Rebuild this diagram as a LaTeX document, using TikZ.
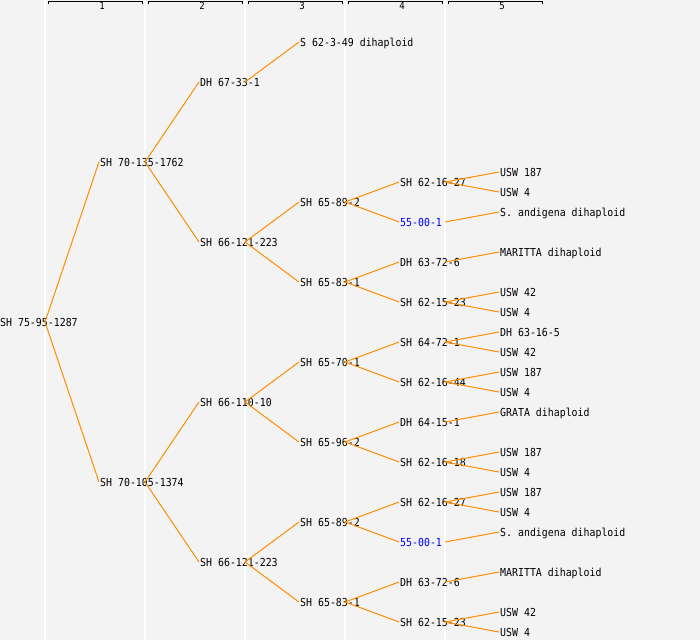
\documentclass[tikz,border=0pt]{standalone}
\usepackage{fontspec}
\newfontfamily\pedfont{DejaVu Sans Mono}[FakeStretch=0.9]
\definecolor{pedbg}{HTML}{F3F3F3}
\definecolor{pedline}{HTML}{FF8C00}
\tikzset{
  person/.style={anchor=west, inner sep=1pt, text height=8pt, text depth=0pt,
    font=\pedfont\fontsize{11}{11}\selectfont},
  marked/.style={person, text=blue},
  link/.style={draw=pedline, line width=1pt},
  gridline/.style={draw=white, line width=1.2pt},
  genbracket/.style={draw=black, line width=1pt},
  genlabel/.style={inner sep=0pt, font=\pedfont\fontsize{10}{10}\selectfont}
}
\newcommand{\parentof}[2]{\draw[link] ([xshift=46pt]#1.west) -- (#2.west);}

\begin{document}
\begin{tikzpicture}[x=1pt,y=-1pt]
  \fill[pedbg] (0,0) rectangle (700,640);
  \useasboundingbox (0,0) rectangle (700,640);

  \draw[gridline] (45,0) -- (45,640);
  \draw[gridline] (145,0) -- (145,640);
  \draw[gridline] (245,0) -- (245,640);
  \draw[gridline] (345,0) -- (345,640);
  \draw[gridline] (445,0) -- (445,640);

  \draw[genbracket] (48,4) -- (48,1) -- (142.5,1) -- (142.5,4);
  \draw[genbracket] (148,4) -- (148,1) -- (242.5,1) -- (242.5,4);
  \draw[genbracket] (248,4) -- (248,1) -- (342.5,1) -- (342.5,4);
  \draw[genbracket] (348,4) -- (348,1) -- (442.5,1) -- (442.5,4);
  \draw[genbracket] (448,4) -- (448,1) -- (542.5,1) -- (542.5,4);
  \node[genlabel] (gen1) at (102,6) {1};
  \node[genlabel] (gen2) at (202,6) {2};
  \node[genlabel] (gen3) at (302,6) {3};
  \node[genlabel] (gen4) at (402,6) {4};
  \node[genlabel] (gen5) at (502,6) {5};

  \node[person] (r) at (-1,322) {SH 75-95-1287};

  \node[person] (r1) at (99,162) {SH 70-135-1762};
  \node[person] (r2) at (99,482) {SH 70-105-1374};

  \node[person] (r11) at (199,82) {DH 67-33-1};
  \node[person] (r12) at (199,242) {SH 66-121-223};
  \node[person] (r21) at (199,402) {SH 66-110-10};
  \node[person] (r22) at (199,562) {SH 66-121-223};

  \node[person] (r111) at (299,42) {S 62-3-49 dihaploid};
  \node[person] (r121) at (299,202) {SH 65-89-2};
  \node[person] (r122) at (299,282) {SH 65-83-1};
  \node[person] (r211) at (299,362) {SH 65-70-1};
  \node[person] (r212) at (299,442) {SH 65-96-2};
  \node[person] (r221) at (299,522) {SH 65-89-2};
  \node[person] (r222) at (299,602) {SH 65-83-1};

  \node[person] (r1211) at (399,182) {SH 62-16-27};
  \node[marked] (r1212) at (399,222) {55-00-1};
  \node[person] (r1221) at (399,262) {DH 63-72-6};
  \node[person] (r1222) at (399,302) {SH 62-15-23};
  \node[person] (r2111) at (399,342) {SH 64-72-1};
  \node[person] (r2112) at (399,382) {SH 62-16-44};
  \node[person] (r2121) at (399,422) {DH 64-15-1};
  \node[person] (r2122) at (399,462) {SH 62-16-18};
  \node[person] (r2211) at (399,502) {SH 62-16-27};
  \node[marked] (r2212) at (399,542) {55-00-1};
  \node[person] (r2221) at (399,582) {DH 63-72-6};
  \node[person] (r2222) at (399,622) {SH 62-15-23};

  \node[person] (r12111) at (499,172) {USW 187};
  \node[person] (r12112) at (499,192) {USW 4};
  \node[person] (r12121) at (499,212) {S. andigena dihaploid};
  \node[person] (r12211) at (499,252) {MARITTA dihaploid};
  \node[person] (r12221) at (499,292) {USW 42};
  \node[person] (r12222) at (499,312) {USW 4};
  \node[person] (r21111) at (499,332) {DH 63-16-5};
  \node[person] (r21112) at (499,352) {USW 42};
  \node[person] (r21121) at (499,372) {USW 187};
  \node[person] (r21122) at (499,392) {USW 4};
  \node[person] (r21211) at (499,412) {GRATA dihaploid};
  \node[person] (r21221) at (499,452) {USW 187};
  \node[person] (r21222) at (499,472) {USW 4};
  \node[person] (r22111) at (499,492) {USW 187};
  \node[person] (r22112) at (499,512) {USW 4};
  \node[person] (r22121) at (499,532) {S. andigena dihaploid};
  \node[person] (r22211) at (499,572) {MARITTA dihaploid};
  \node[person] (r22221) at (499,612) {USW 42};
  \node[person] (r22222) at (499,632) {USW 4};

  \parentof{r}{r1}
  \parentof{r}{r2}
  \parentof{r1}{r11}
  \parentof{r1}{r12}
  \parentof{r2}{r21}
  \parentof{r2}{r22}
  \parentof{r11}{r111}
  \parentof{r12}{r121}
  \parentof{r12}{r122}
  \parentof{r21}{r211}
  \parentof{r21}{r212}
  \parentof{r22}{r221}
  \parentof{r22}{r222}
  \parentof{r121}{r1211}
  \parentof{r121}{r1212}
  \parentof{r122}{r1221}
  \parentof{r122}{r1222}
  \parentof{r211}{r2111}
  \parentof{r211}{r2112}
  \parentof{r212}{r2121}
  \parentof{r212}{r2122}
  \parentof{r221}{r2211}
  \parentof{r221}{r2212}
  \parentof{r222}{r2221}
  \parentof{r222}{r2222}
  \parentof{r1211}{r12111}
  \parentof{r1211}{r12112}
  \parentof{r1212}{r12121}
  \parentof{r1221}{r12211}
  \parentof{r1222}{r12221}
  \parentof{r1222}{r12222}
  \parentof{r2111}{r21111}
  \parentof{r2111}{r21112}
  \parentof{r2112}{r21121}
  \parentof{r2112}{r21122}
  \parentof{r2121}{r21211}
  \parentof{r2122}{r21221}
  \parentof{r2122}{r21222}
  \parentof{r2211}{r22111}
  \parentof{r2211}{r22112}
  \parentof{r2212}{r22121}
  \parentof{r2221}{r22211}
  \parentof{r2222}{r22221}
  \parentof{r2222}{r22222}
\end{tikzpicture}
\end{document}
